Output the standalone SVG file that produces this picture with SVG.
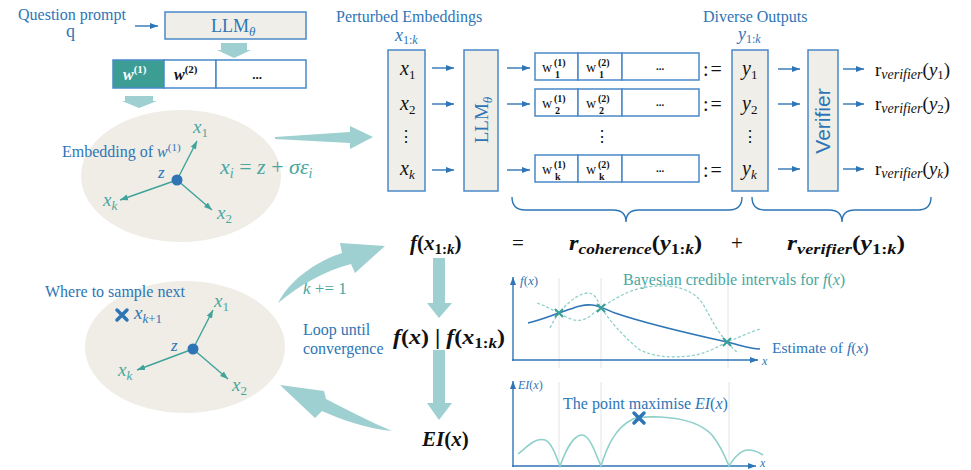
<svg xmlns="http://www.w3.org/2000/svg" width="971" height="470" viewBox="0 0 971 470">
<defs>
<marker id="ab" markerUnits="userSpaceOnUse" markerWidth="8" markerHeight="8" refX="8" refY="4" orient="auto" viewBox="0 0 8 8"><path d="M0,1 L8,4 L0,7 z" fill="#2e75b6"/></marker>
<marker id="at" markerUnits="userSpaceOnUse" markerWidth="8" markerHeight="8" refX="8" refY="4" orient="auto" viewBox="0 0 8 8"><path d="M0,1 L8,4 L0,7 z" fill="#3fa39b"/></marker>
<style>
.ser{font-family:"Liberation Serif","DejaVu Serif",serif}
.blue{fill:#2e75b6}
.teal{fill:#4aa79f}
.blk{fill:#111}
.box{fill:#f0eee8;stroke:#4a89c8;stroke-width:1.5}
.cell{fill:#fff;stroke:#4a89c8;stroke-width:1.5}
.conn{stroke:#2e75b6;stroke-width:1.4;fill:none;marker-end:url(#ab)}
.tconn{stroke:#3fa39b;stroke-width:1.4;fill:none;marker-end:url(#at)}
.big{fill:#9ecfd1}
.it{font-style:italic}
.b{font-weight:bold}
.ell{fill:#efede6}
.grid{stroke:#e4e4e4;stroke-width:1}
.dash{fill:none;stroke:#8fd0cb;stroke-width:1.3;stroke-dasharray:3 2}
</style>
</defs>

<g id="prompt">
<text x="18" y="20" font-size="16" class="ser blue">Question prompt</text>
<text x="66" y="37" font-size="18" class="ser blue">q</text>
</g>

<g id="llm-top">
<rect x="165" y="12" width="141" height="27" class="box"/>
<text x="211" y="32" font-size="18" class="ser blue">LLM<tspan font-size="13" class="it" dy="4">θ</tspan></text>
</g>

<g id="tokens">
<rect x="113" y="60" width="51" height="28" fill="#3c9d95" stroke="#4a89c8" stroke-width="1.5"/>
<rect x="164" y="60" width="52" height="28" class="cell"/>
<rect x="216" y="60" width="90" height="28" class="cell"/>
<text x="123" y="80" font-size="16" class="ser it b" fill="#fff">w<tspan font-size="11" font-style="normal" dy="-7">(1)</tspan></text>
<text x="174" y="80" font-size="16" class="ser it b blk">w<tspan font-size="11" font-style="normal" dy="-7">(2)</tspan></text>
<text x="257" y="79" font-size="13" class="ser b blk" text-anchor="middle">...</text>
</g>

<g id="embedding-space">
<ellipse cx="181" cy="176" rx="100" ry="66" class="ell"/>
<text x="62" y="157" font-size="16" class="ser blue">Embedding of <tspan class="it">w</tspan><tspan font-size="11" dy="-6">(1)</tspan></text>
<line x1="177" y1="180" x2="197" y2="141" class="tconn"/>
<line x1="177" y1="180" x2="212" y2="210" class="tconn"/>
<line x1="177" y1="180" x2="120" y2="200" class="tconn"/>
<circle cx="177" cy="180" r="5.5" fill="#2e75b6"/>
<text x="158" y="178" font-size="17" class="ser it blue">z</text>
<text x="193" y="133" font-size="19" class="ser teal"><tspan class="it">x</tspan><tspan font-size="13" dy="4">1</tspan></text>
<text x="217" y="219" font-size="19" class="ser teal"><tspan class="it">x</tspan><tspan font-size="13" dy="4">2</tspan></text>
<text x="103" y="206" font-size="19" class="ser teal it">x<tspan font-size="13" dy="4">k</tspan></text>
<text x="220" y="174" font-size="22" class="ser teal"><tspan class="it">x</tspan><tspan font-size="14" class="it" dy="4">i</tspan><tspan dy="-4"> = </tspan><tspan class="it">z</tspan> +  <tspan class="it">σε</tspan><tspan font-size="14" class="it" dy="4">i</tspan></text>
</g>

<g id="perturbed-embeddings">
<text x="336" y="22" font-size="16" class="ser blue">Perturbed Embeddings</text>
<text x="395" y="41" font-size="18" class="ser blue"><tspan class="it">x</tspan><tspan font-size="12" dy="3">1:<tspan class="it">k</tspan></tspan></text>
<rect x="388" y="50" width="37" height="141" class="box"/>
<text x="400" y="75" font-size="20" class="ser blk"><tspan class="it">x</tspan><tspan font-size="13" dy="4">1</tspan></text>
<text x="400" y="110" font-size="20" class="ser blk"><tspan class="it">x</tspan><tspan font-size="13" dy="4">2</tspan></text>
<text x="406" y="142" font-size="16" class="blk" font-family="DejaVu Serif, serif" text-anchor="middle">⋮</text>
<text x="400" y="175" font-size="20" class="ser blk it">x<tspan font-size="13" dy="4">k</tspan></text>
</g>

<g id="llm-vertical">
<rect x="464" y="50" width="34" height="141" class="box"/>
<text transform="translate(488,120) rotate(-90)" font-size="19" class="ser blue" text-anchor="middle">LLM<tspan font-size="13" class="it" dy="4">θ</tspan></text>
</g>

<g id="token-rows">
<rect x="535" y="53" width="43" height="27" class="cell"/><rect x="578" y="53" width="44" height="27" class="cell"/><rect x="622" y="53" width="77" height="27" class="cell"/>
<rect x="535" y="89" width="43" height="27" class="cell"/><rect x="578" y="89" width="44" height="27" class="cell"/><rect x="622" y="89" width="77" height="27" class="cell"/>
<rect x="535" y="155" width="43" height="27" class="cell"/><rect x="578" y="155" width="44" height="27" class="cell"/><rect x="622" y="155" width="77" height="27" class="cell"/>
<g class="ser blk" font-size="14">
<text x="542" y="72">w</text><text x="554" y="66" font-size="10" font-weight="bold">(1)</text><text x="555" y="78" font-size="10" font-weight="bold">1</text>
<text x="586" y="72">w</text><text x="598" y="66" font-size="10" font-weight="bold">(2)</text><text x="599" y="78" font-size="10" font-weight="bold">1</text>
<text x="660" y="70" font-size="11" font-weight="bold" text-anchor="middle">...</text>
<text x="542" y="108">w</text><text x="554" y="102" font-size="10" font-weight="bold">(1)</text><text x="555" y="114" font-size="10" font-weight="bold">2</text>
<text x="586" y="108">w</text><text x="598" y="102" font-size="10" font-weight="bold">(2)</text><text x="599" y="114" font-size="10" font-weight="bold">2</text>
<text x="660" y="106" font-size="11" font-weight="bold" text-anchor="middle">...</text>
<text x="542" y="174">w</text><text x="554" y="168" font-size="10" font-weight="bold">(1)</text><text x="555" y="180" font-size="10" font-weight="bold">k</text>
<text x="586" y="174">w</text><text x="598" y="168" font-size="10" font-weight="bold">(2)</text><text x="599" y="180" font-size="10" font-weight="bold">k</text>
<text x="660" y="172" font-size="11" font-weight="bold" text-anchor="middle">...</text>
</g>
<text x="602" y="142" font-size="16" class="blk" font-family="DejaVu Serif, serif" text-anchor="middle">⋮</text>
<text x="703" y="76" font-size="20" class="ser blk" letter-spacing="2">:=</text>
<text x="703" y="111" font-size="20" class="ser blk" letter-spacing="2">:=</text>
<text x="703" y="177" font-size="20" class="ser blk" letter-spacing="2">:=</text>
</g>

<g id="diverse-outputs">
<text x="703" y="22" font-size="16" class="ser blue">Diverse Outputs</text>
<text x="738" y="40" font-size="18" class="ser blue"><tspan class="it">y</tspan><tspan font-size="12" dy="3">1:<tspan class="it">k</tspan></tspan></text>
<rect x="732" y="50" width="36" height="141" class="box"/>
<text x="742" y="75" font-size="20" class="ser blk"><tspan class="it">y</tspan><tspan font-size="13" dy="4">1</tspan></text>
<text x="742" y="110" font-size="20" class="ser blk"><tspan class="it">y</tspan><tspan font-size="13" dy="4">2</tspan></text>
<text x="750" y="142" font-size="16" class="blk" font-family="DejaVu Serif, serif" text-anchor="middle">⋮</text>
<text x="742" y="175" font-size="20" class="ser blk it">y<tspan font-size="13" dy="4">k</tspan></text>
</g>

<g id="verifier">
<rect x="808" y="50" width="30" height="141" class="box"/>
<text transform="translate(830,121) rotate(-90)" font-size="21" font-family="Liberation Sans, Arial, sans-serif" class="blue" text-anchor="middle">Verifier</text>
</g>

<g id="verifier-outputs" class="ser blk" font-size="19">
<text x="875" y="76">r<tspan font-size="14" class="it" dy="3">verifier</tspan><tspan dy="-3">(</tspan><tspan class="it">y</tspan><tspan font-size="13" dy="3">1</tspan><tspan dy="-3">)</tspan></text>
<text x="875" y="110">r<tspan font-size="14" class="it" dy="3">verifier</tspan><tspan dy="-3">(</tspan><tspan class="it">y</tspan><tspan font-size="13" dy="3">2</tspan><tspan dy="-3">)</tspan></text>
<text x="875" y="175">r<tspan font-size="14" class="it" dy="3">verifier</tspan><tspan dy="-3">(</tspan><tspan class="it">y</tspan><tspan font-size="13" dy="3" class="it">k</tspan><tspan dy="-3">)</tspan></text>
</g>

<g id="braces" fill="none" stroke="#2e75b6" stroke-width="1.4">
<path d="M512,197 Q512,210 525,210 L613,210 Q626,210 626,222 Q626,210 639,210 L729,210 Q742,210 742,197"/>
<path d="M752,197 Q752,210 765,210 L829,210 Q842,210 842,222 Q842,210 855,210 L918,210 Q931,210 931,197"/>
</g>

<g id="objective" class="ser blk b" font-size="21">
<text x="410" y="250"><tspan class="it">f</tspan>(<tspan class="it">x</tspan><tspan font-size="15" dy="4">1:<tspan class="it">k</tspan></tspan><tspan dy="-4">)</tspan></text>
<text x="512" y="250" font-weight="normal">=</text>
<text x="569" y="250" textLength="133" lengthAdjust="spacingAndGlyphs"><tspan class="it">r</tspan><tspan font-size="15" class="it" dy="4">coherence</tspan><tspan dy="-4">(</tspan><tspan class="it">y</tspan><tspan font-size="15" dy="4">1:<tspan class="it">k</tspan></tspan><tspan dy="-4">)</tspan></text>
<text x="731" y="250" font-weight="normal">+</text>
<text x="787" y="250" textLength="118" lengthAdjust="spacingAndGlyphs"><tspan class="it">r</tspan><tspan font-size="15" class="it" dy="4">verifier</tspan><tspan dy="-4">(</tspan><tspan class="it">y</tspan><tspan font-size="15" dy="4">1:<tspan class="it">k</tspan></tspan><tspan dy="-4">)</tspan></text>
</g>

<g id="posterior" class="ser blk b" font-size="21">
<text x="393" y="344" textLength="112" lengthAdjust="spacingAndGlyphs"><tspan class="it">f</tspan>(<tspan class="it">x</tspan>) | <tspan class="it">f</tspan>(<tspan class="it">x</tspan><tspan font-size="15" dy="4">1:<tspan class="it">k</tspan></tspan><tspan dy="-4">)</tspan></text>
</g>

<g id="ei" class="ser blk b" font-size="21">
<text x="422" y="446"><tspan class="it">EI</tspan>(<tspan class="it">x</tspan>)</text>
</g>

<g id="loop-labels" class="ser" font-size="16">
<text x="303" y="294" class="teal" font-size="17"><tspan class="it">k</tspan> += 1</text>
<text x="303" y="335" class="blue">Loop until</text>
<text x="303" y="354" class="blue">convergence</text>
</g>

<g id="sample-space">
<ellipse cx="185" cy="347" rx="100" ry="66" class="ell"/>
<text x="45" y="297" font-size="16" class="ser blue">Where to sample next</text>
<path d="M117,310 L127,320 M127,310 L117,320" stroke="#2e75b6" stroke-width="3.5" stroke-linecap="round"/>
<text x="134" y="319" font-size="19" class="ser blue it">x<tspan font-size="13" dy="4">k<tspan font-style="normal">+1</tspan></tspan></text>
<line x1="193" y1="349" x2="213" y2="310" class="tconn"/>
<line x1="193" y1="349" x2="228" y2="379" class="tconn"/>
<line x1="193" y1="349" x2="137" y2="370" class="tconn"/>
<circle cx="193" cy="349" r="5.5" fill="#2e75b6"/>
<text x="171" y="351" font-size="17" class="ser it blue">z</text>
<text x="214" y="307" font-size="19" class="ser teal"><tspan class="it">x</tspan><tspan font-size="13" dy="4">1</tspan></text>
<text x="232" y="391" font-size="19" class="ser teal"><tspan class="it">x</tspan><tspan font-size="13" dy="4">2</tspan></text>
<text x="118" y="376" font-size="19" class="ser teal it">x<tspan font-size="13" dy="4">k</tspan></text>
</g>

<g id="gp-chart">
<line x1="559" y1="278" x2="559" y2="368" class="grid"/>
<line x1="601" y1="278" x2="601" y2="368" class="grid"/>
<line x1="728" y1="278" x2="728" y2="368" class="grid"/>
<line x1="513" y1="361" x2="513" y2="277" class="conn" stroke-width="1.5"/>
<line x1="512" y1="360" x2="758" y2="360" class="conn" stroke-width="1.5"/>
<path d="M537,303 C546,306 552,310 559,313 C566,317 574,322 582,320 C590,318 595,311 601,308 C612,300 630,289 647,287 C662,285 685,284 700,300 C708,310 712,325 727,342 C731,346 734,350 737,352" class="dash"/>
<path d="M550,328 C553,322 555,318 559,313 C566,305 575,295 587,293 C596,292 598,303 601,308 C610,320 620,334 640,350 C655,357 670,358 690,356 C705,354 715,348 727,342 C738,338 750,332 760,329" class="dash"/>
<path d="M528,323 C540,320 550,316 559,313 C572,309 580,304 592,305 C600,306 605,309 615,313 C650,325 700,336 727,342 C740,345 750,349 760,349" fill="none" stroke="#2e75b6" stroke-width="1.6"/>
<path d="M555,309 L563,317 M563,309 L555,317 M597,304 L605,312 M605,304 L597,312 M723,338 L731,346 M731,338 L723,346" stroke="#3a9f97" stroke-width="2"/>
<text x="520" y="285" font-size="13" class="ser blue it">f<tspan font-style="normal">(</tspan>x<tspan font-style="normal">)</tspan></text>
<text x="762" y="365" font-size="12" class="ser blue it">x</text>
<text x="623" y="285" font-size="16" class="ser teal">Bayesian credible intervals for <tspan class="it">f</tspan>(<tspan class="it">x</tspan>)</text>
<text x="772" y="353" font-size="15.5" class="ser blue">Estimate of <tspan class="it">f</tspan>(<tspan class="it">x</tspan>)</text>
</g>

<g id="ei-chart">
<line x1="559" y1="382" x2="559" y2="466" class="grid"/>
<line x1="601" y1="382" x2="601" y2="466" class="grid"/>
<line x1="729" y1="382" x2="729" y2="466" class="grid"/>
<line x1="513" y1="467" x2="513" y2="381" class="conn" stroke-width="1.5"/>
<line x1="512" y1="466" x2="756" y2="466" class="conn" stroke-width="1.5"/>
<path d="M518,454 C528,446 536,437 545,440 C552,443 556,456 560,466 C566,450 573,435 582,435 C590,435 596,455 601,466 C606,450 614,428 633,419 C640,416 650,417 660,417 C680,418 700,422 712,435 C720,445 725,456 729,466 C734,458 740,450 748,450 C755,450 760,453 763,455" fill="none" stroke="#8fd0cb" stroke-width="1.6"/>
<path d="M634,413 L644,423 M644,413 L634,423" stroke="#2e75b6" stroke-width="3.5" stroke-linecap="round"/>
<text x="518" y="389" font-size="12" class="ser blue it">EI<tspan font-style="normal">(</tspan>x<tspan font-style="normal">)</tspan></text>
<text x="760" y="467" font-size="12" class="ser blue it">x</text>
<text x="563" y="409" font-size="16" class="ser blue">The point maximise <tspan class="it">EI</tspan>(<tspan class="it">x</tspan>)</text>
</g>

<g id="connectors">
<line x1="135" y1="26" x2="158" y2="26" class="conn"/>
<path d="M221,43 L247,43 L247,50 L251,50 L234,58 L217,50 L221,50 Z" class="big"/>
<path d="M125,96 L153,96 L153,101 L157,101 L139,108 L122,101 L125,101 Z" class="big"/>
<path d="M275,137 L350,132 L350,126 L373,137 L350,149 L350,143 L275,139 Z" class="big"/>
<line x1="432" y1="68" x2="454" y2="68" class="conn"/>
<line x1="432" y1="104" x2="454" y2="104" class="conn"/>
<line x1="432" y1="170" x2="454" y2="170" class="conn"/>
<line x1="507" y1="68" x2="530" y2="68" class="conn"/>
<line x1="507" y1="104" x2="530" y2="104" class="conn"/>
<line x1="507" y1="170" x2="530" y2="170" class="conn"/>
<line x1="778" y1="69" x2="800" y2="69" class="conn"/>
<line x1="778" y1="104" x2="800" y2="104" class="conn"/>
<line x1="778" y1="169" x2="800" y2="169" class="conn"/>
<line x1="843" y1="69" x2="864" y2="69" class="conn"/>
<line x1="843" y1="104" x2="864" y2="104" class="conn"/>
<line x1="843" y1="169" x2="864" y2="169" class="conn"/>
<path d="M433,258 L445,258 L445,303 L452,303 L439,318 L427,303 L433,303 Z" class="big"/>
<path d="M433,350 L445,350 L445,403 L452,403 L439,420 L427,403 L433,403 Z" class="big"/>
<path d="M278,303 C290,280 315,262 342,253 L340,243 L385,246 L355,273 L351,264 C324,271 300,285 278,303 Z" class="big"/>
<path d="M392,431 C365,428 342,420 322,411 L315,418 L280,385 L324,391 L326,399 C348,410 370,422 392,431 Z" class="big"/>
</g>
</svg>
